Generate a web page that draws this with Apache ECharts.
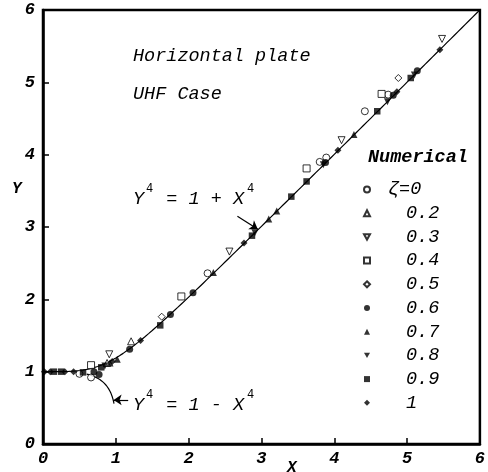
<!DOCTYPE html>
<html>
<head>
<meta charset="utf-8">
<script src="https://cdn.jsdelivr.net/npm/echarts@6/dist/echarts.min.js"></script>
<style>
  html, body { margin: 0; padding: 0; background: #fff; }
  #chart { width: 488px; height: 472px; }
</style>
</head>
<body>
<div id="chart"></div>
<script>
// Numerical results for the horizontal plate, UHF case: [X, Y] per zeta value
const zeta0  = [[0.50, 0.97], [0.66, 0.92], [2.26, 2.36], [3.80, 3.90], [3.89, 3.96], [4.42, 4.60], [4.74, 4.83]];
const zeta02 = [[0.88, 1.12], [1.21, 1.42]];
const zeta03 = [[0.91, 1.24], [2.56, 2.66], [4.10, 4.20], [5.48, 5.60]];
const zeta04 = [[0.66, 1.09], [1.90, 2.04], [3.62, 3.81], [4.65, 4.84]];
const zeta05 = [[1.63, 1.76], [4.88, 5.06]];
const zeta06 = [[0.70, 1.00], [0.77, 0.96], [1.19, 1.31], [1.75, 1.79], [2.06, 2.09], [3.88, 3.89], [4.81, 4.82], [5.14, 5.16]];
const zeta07 = [[0.92, 1.12], [1.02, 1.17], [2.34, 2.37], [3.10, 3.11], [3.21, 3.22], [4.27, 4.28]];
const zeta08 = [[0.85, 1.08], [2.91, 2.92], [3.85, 3.86], [4.73, 4.73], [5.10, 5.10]];
const zeta09 = [[0.15, 1.00], [0.25, 1.00], [0.55, 0.99], [0.80, 1.06], [1.61, 1.64], [2.87, 2.88], [3.41, 3.42], [3.62, 3.63], [4.59, 4.60], [5.05, 5.06]];
const zeta1  = [[0.02, 1.00], [0.10, 1.00], [0.30, 1.00], [0.42, 1.00], [0.95, 1.14], [1.34, 1.43], [2.76, 2.78], [4.05, 4.06], [4.86, 4.87], [5.45, 5.45]];

const legendNames = ['ζ=0', '0.2', '0.3', '0.4', '0.5', '0.6', '0.7', '0.8', '0.9', '1'];
const xTicks = [0, 1, 2, 3, 4, 5, 6];
const yTicks = [0, 1, 2, 3, 4, 5, 6];

// Asymptotic relations drawn as curves: Y^4 = 1 + X^4 and Y^4 = 1 - X^4
const upperCurve = [];
for (let i = 0; i <= 240; i++) {
  const x = i * 0.025;
  upperCurve.push([x, Math.pow(1 + Math.pow(x, 4), 0.25)]);
}
const lowerCurve = [];
for (let i = 0; i <= 75; i++) {
  const x = 0.6 + i * 0.005;
  lowerCurve.push([x, Math.pow(1 - Math.pow(x, 4), 0.25)]);
}

const mono = 'Liberation Mono, Courier New, monospace';
const downTri = 'path://M0,0 L10,0 L5,9 Z';

function pts(name, data, symbol, open, size) {
  return {
    type: 'scatter', name, data, symbol, symbolSize: size,
    itemStyle: open
      ? { color: '#fff', borderColor: '#000', borderWidth: 1 }
      : { color: '#000', borderColor: '#000', borderWidth: 0 },
    z: 5
  };
}

const chart = echarts.init(document.getElementById('chart'));
chart.setOption({
  animation: false,
  backgroundColor: '#fff',
  grid: { left: 43, right: 2, top: 10, bottom: 28, show: true, borderColor: '#000', borderWidth: 2.5 },
  xAxis: {
    type: 'value', min: 0, max: 6, interval: 1,
    axisLine: { lineStyle: { color: '#000', width: 2.5 } },
    axisTick: { inside: true, length: 6, lineStyle: { color: '#000', width: 1.5 } },
    splitLine: { show: false },
    axisLabel: {
      color: '#000', fontFamily: mono, fontStyle: 'italic', fontWeight: 'bold', fontSize: 17, margin: 6,
      formatter: v => xTicks.includes(v) ? String(v) : ''
    }
  },
  yAxis: {
    type: 'value', min: 0, max: 6, interval: 1,
    axisLine: { lineStyle: { color: '#000', width: 2.5 } },
    axisTick: { inside: true, length: 6, lineStyle: { color: '#000', width: 1.5 } },
    splitLine: { show: false },
    axisLabel: {
      color: '#000', fontFamily: mono, fontStyle: 'italic', fontWeight: 'bold', fontSize: 17, margin: 8,
      formatter: v => yTicks.includes(v) ? String(v) : ''
    }
  },
  legend: {
    orient: 'vertical', left: 358, top: 175,
    itemWidth: 6, itemHeight: 6, itemGap: 4.7,
    selectedMode: false,
    data: legendNames,
    formatter: n => n === 'ζ=0' ? '{a|' + n + '}' : '{b|' + n + '}',
    textStyle: {
      color: '#000', fontFamily: mono, fontStyle: 'italic', fontSize: 18.5,
      rich: {
        a: { fontFamily: mono, fontStyle: 'italic', fontSize: 18.5, lineHeight: 18, padding: [0, 0, 0, 13] },
        b: { fontFamily: mono, fontStyle: 'italic', fontSize: 18.5, lineHeight: 18, padding: [0, 0, 0, 31] }
      }
    }
  },
  series: [
    {
      type: 'line', name: 'upper', data: upperCurve, showSymbol: false, silent: true,
      lineStyle: { color: '#000', width: 1.2 }, z: 3,
      markLine: {
        silent: true, symbol: ['none', 'arrow'], symbolSize: 8,
        lineStyle: { color: '#000', width: 1.2, type: 'solid' }, label: { show: false },
        data: [
          [{ coord: [2.67, 3.15] }, { coord: [2.95, 2.97] }],
          [{ coord: [1.17, 0.61] }, { coord: [0.97, 0.61] }]
        ]
      }
    },
    {
      type: 'line', name: 'lower', data: lowerCurve, showSymbol: false, silent: true,
      lineStyle: { color: '#000', width: 1.2 }, z: 3
    },
    pts('ζ=0', zeta0, 'circle', true, 7),
    pts('0.2', zeta02, 'triangle', true, 7),
    pts('0.3', zeta03, downTri, true, 7),
    pts('0.4', zeta04, 'rect', true, 7),
    pts('0.5', zeta05, 'diamond', true, 7),
    pts('0.6', zeta06, 'circle', false, 7),
    pts('0.7', zeta07, 'triangle', false, 7),
    pts('0.8', zeta08, downTri, false, 7),
    pts('0.9', zeta09, 'rect', false, 6.5),
    pts('1', zeta1, 'diamond', false, 7)
  ],
  graphic: [
    { type: 'text', left: 133, top: 47, style: { text: 'Horizontal plate', font: 'italic 18.5px ' + mono, fill: '#000' } },
    { type: 'text', left: 133, top: 85, style: { text: 'UHF Case', font: 'italic 18.5px ' + mono, fill: '#000' } },
    { type: 'text', left: 368, top: 148, style: { text: 'Numerical', font: 'italic bold 18.5px ' + mono, fill: '#000' } },
    { type: 'text', left: 133, top: 190, style: { text: 'Y  = 1 + X', font: 'italic 18.5px ' + mono, fill: '#000' } },
    { type: 'text', left: 146, top: 183, style: { text: '4', font: '12px ' + mono, fill: '#000' } },
    { type: 'text', left: 247, top: 183, style: { text: '4', font: '12px ' + mono, fill: '#000' } },
    { type: 'text', left: 133, top: 396, style: { text: 'Y  = 1 - X', font: 'italic 18.5px ' + mono, fill: '#000' } },
    { type: 'text', left: 146, top: 389, style: { text: '4', font: '12px ' + mono, fill: '#000' } },
    { type: 'text', left: 247, top: 389, style: { text: '4', font: '12px ' + mono, fill: '#000' } },
    { type: 'text', left: 12, top: 181, style: { text: 'Y', font: 'italic bold 16px ' + mono, fill: '#000' } },
    { type: 'text', left: 287, top: 460, style: { text: 'X', font: 'italic bold 16px ' + mono, fill: '#000' } }
  ]
});
</script>
</body>
</html>
